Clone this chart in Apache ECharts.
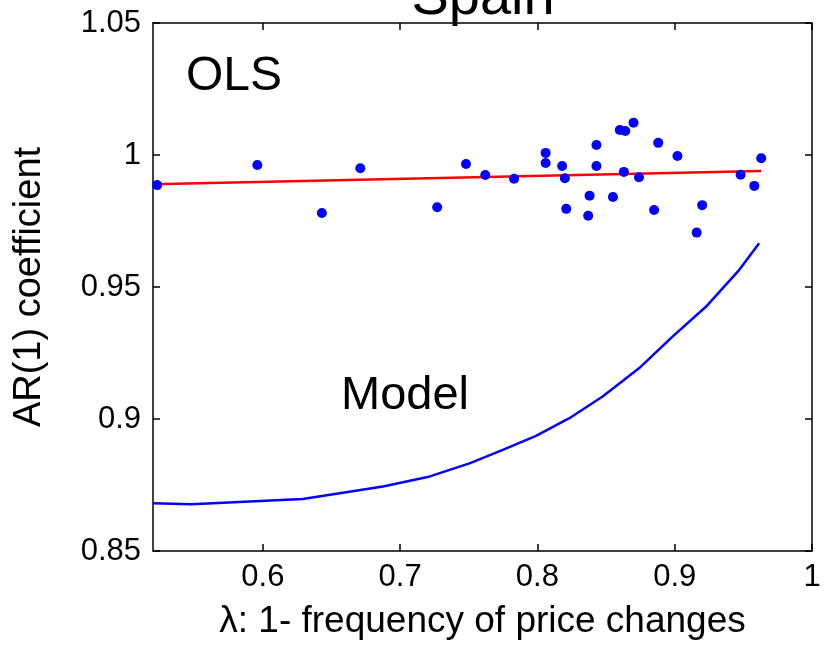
<!DOCTYPE html>
<html>
<head>
<meta charset="utf-8">
<script src="https://cdn.jsdelivr.net/npm/echarts@6/dist/echarts.min.js"></script>
<style>
  html, body { margin: 0; padding: 0; background: #fff; }
  #chart { width: 824px; height: 645px; }
</style>
</head>
<body>
<div id="chart"></div>
<script>
// OLS estimates per product: lambda and AR(1) coefficient
const olsLambda = [0.523, 0.596, 0.643, 0.671, 0.727, 0.748, 0.762, 0.783, 0.806, 0.806,
  0.818, 0.820, 0.821, 0.837, 0.838, 0.843, 0.843, 0.855, 0.860, 0.864,
  0.863, 0.870, 0.874, 0.885, 0.888, 0.902, 0.916, 0.920, 0.948, 0.958, 0.963];
const olsCoef = [0.9886, 0.9962, 0.978, 0.995, 0.9802, 0.9966, 0.9924, 0.991, 1.0008, 0.997,
  0.9958, 0.9912, 0.9796, 0.977, 0.9846, 1.0038, 0.9958, 0.9841, 1.0095, 1.0091,
  0.9936, 1.0122, 0.9916, 0.9792, 1.0046, 0.9996, 0.9706, 0.981, 0.9925, 0.9883, 0.9988];

// fitted regression line
const fitLambda = [0.52, 0.963];
const fitCoef = [0.9889, 0.9939];

// model-implied AR(1) coefficient
const modelLambda = [0.52, 0.548, 0.629, 0.6875, 0.72, 0.7505, 0.7748, 0.799, 0.8233,
  0.8475, 0.874, 0.8984, 0.9227, 0.9469, 0.9615];
const modelCoef = [0.8681, 0.8677, 0.8697, 0.8744, 0.878, 0.8832, 0.8883, 0.8936, 0.9003,
  0.9085, 0.9192, 0.9312, 0.9425, 0.9564, 0.9666];

const xTicks = [0.6, 0.7, 0.8, 0.9, 1];
const yTicks = [0.85, 0.9, 0.95, 1, 1.05];

const chart = echarts.init(document.getElementById('chart'));
const font = 'Liberation Sans, Arial, sans-serif';
const pair = (xs, ys) => xs.map((x, i) => [x, ys[i]]);

const axisBase = {
  type: 'value',
  axisLine: { show: true, onZero: false, lineStyle: { color: '#000', width: 1.5 } },
  axisTick: { show: true, inside: true, length: 7, lineStyle: { color: '#000', width: 1.5 } },
  splitLine: { show: false }
};

chart.setOption({
  animation: false,
  backgroundColor: '#fff',
  grid: { left: 153, right: 12, top: 23, bottom: 94, containLabel: false, outerBoundsMode: 'none' },
  xAxis: [
    Object.assign({}, axisBase, {
      min: 0.52, max: 1,
      axisTick: Object.assign({}, axisBase.axisTick, { customValues: xTicks }),
      axisLabel: { customValues: xTicks, formatter: v => String(v), color: '#000',
        fontSize: 31, fontFamily: font, margin: 11 },
      name: 'λ: 1- frequency of price changes',
      nameLocation: 'middle', nameGap: 52,
      nameTextStyle: { color: '#000', fontSize: 37, fontFamily: font }
    }),
    Object.assign({}, axisBase, {
      position: 'top', min: 0.52, max: 1,
      axisTick: Object.assign({}, axisBase.axisTick, { customValues: xTicks }),
      axisLabel: { show: false }
    })
  ],
  yAxis: [
    Object.assign({}, axisBase, {
      min: 0.85, max: 1.05,
      axisTick: Object.assign({}, axisBase.axisTick, { customValues: yTicks }),
      axisLabel: { customValues: yTicks, formatter: v => String(v), color: '#000',
        fontSize: 31, fontFamily: font, margin: 12 },
      name: 'AR(1) coefficient',
      nameLocation: 'middle', nameGap: 104,
      nameTextStyle: { color: '#000', fontSize: 38, fontFamily: font }
    }),
    Object.assign({}, axisBase, {
      position: 'right', min: 0.85, max: 1.05,
      axisTick: Object.assign({}, axisBase.axisTick, { customValues: yTicks }),
      axisLabel: { show: false }
    })
  ],
  graphic: [
    { type: 'text', x: 483, y: -29, z: 100,
      style: { text: 'Spain', font: '56px ' + font, fill: '#000', align: 'center' } },
    { type: 'text', left: 186, top: 53,
      style: { text: 'OLS', font: '48px ' + font, fill: '#000' } },
    { type: 'text', left: 341, top: 373,
      style: { text: 'Model', font: '47px ' + font, fill: '#000' } }
  ],
  series: [
    {
      type: 'line', data: pair(modelLambda, modelCoef),
      showSymbol: false, symbol: 'none',
      lineStyle: { color: '#0000ff', width: 2.5 }
    },
    {
      type: 'line', data: pair(fitLambda, fitCoef),
      showSymbol: false, symbol: 'none', z: 3,
      lineStyle: { color: '#ff0000', width: 2.5 }
    },
    {
      type: 'scatter', data: pair(olsLambda, olsCoef),
      symbolSize: 10, z: 4,
      itemStyle: { color: '#0000ff', opacity: 1 }
    }
  ]
});
</script>
</body>
</html>
